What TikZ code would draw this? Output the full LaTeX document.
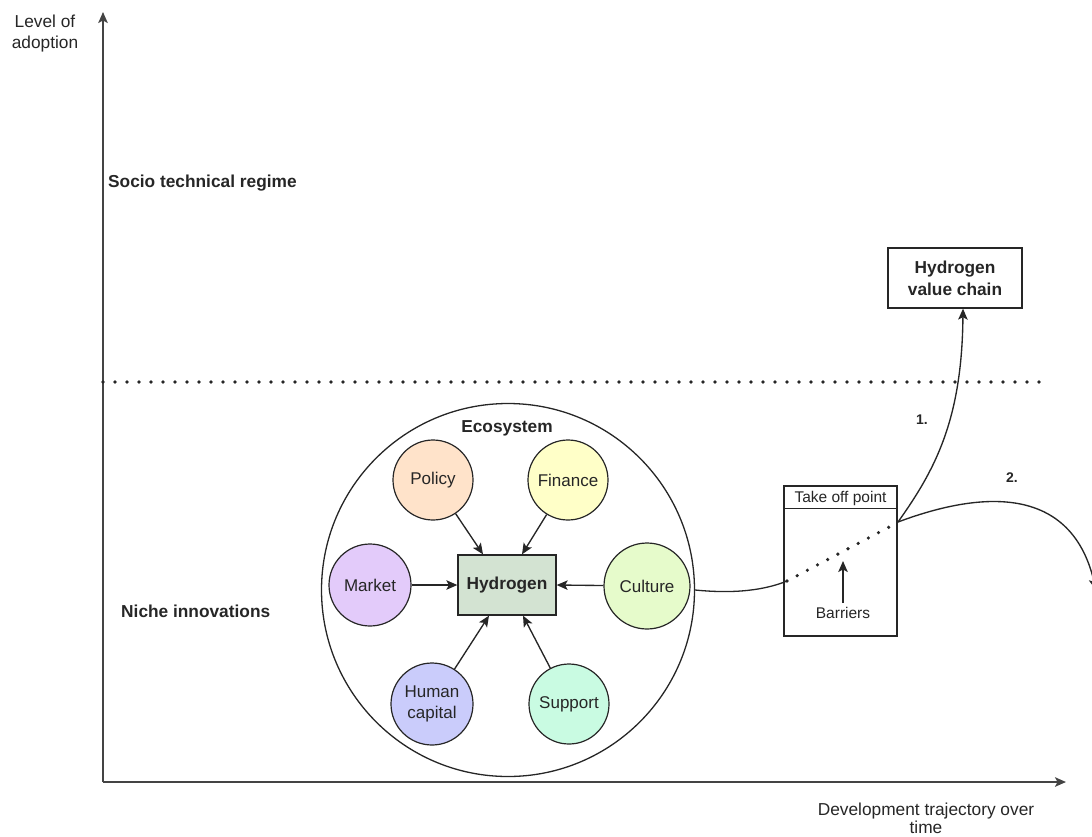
\documentclass[tikz,border=0pt]{standalone}
\usepackage{fontspec}
\setmainfont{Liberation Sans}
\usetikzlibrary{arrows.meta}
\definecolor{txt}{HTML}{262626}
\definecolor{axis}{HTML}{444444}
\definecolor{hydfill}{HTML}{D3E3D2}
\definecolor{polfill}{HTML}{FFE3CA}
\definecolor{finfill}{HTML}{FFFFC8}
\definecolor{mktfill}{HTML}{E3CBFA}
\definecolor{culfill}{HTML}{E6FBCB}
\definecolor{humfill}{HTML}{CACCFB}
\definecolor{supfill}{HTML}{C9FBE2}
\tikzset{
  lbl/.style={font=\fontsize{17.3}{21}\selectfont, text=txt, inner sep=0pt, align=center},
  blbl/.style={lbl, font=\fontsize{17.3}{21}\selectfont\bfseries},
  fac/.style={circle, draw=txt, line width=1.2pt, minimum size=80pt, inner sep=0pt, font=\fontsize{17}{20}\selectfont, text=txt, align=center},
  arr/.style={-{Stealth[length=11pt,width=9.5pt,inset=2.5pt]}, line width=1.35pt, draw=txt},
  dotline/.style={line width=3.6pt, line cap=round, dash pattern=on 0pt off 12pt, draw=txt},
}
\begin{document}
\begin{tikzpicture}[x=1pt,y=-1pt]
\useasboundingbox (0,0) rectangle (1092,836);
% axes
\coordinate (origin) at (103,782);
\coordinate (ytop) at (103,12);
\coordinate (xend) at (1066,782);
\draw[arr, draw=axis, line width=1.7pt] (origin) -- (ytop);
\draw[arr, draw=axis, line width=1.7pt] (origin) -- (xend);
\node[lbl] (ylab) at (45,34) {Level of\\adoption};
\node[lbl, font=\fontsize{17.3}{18}\selectfont] (xlab) at (926,818) {Development trajectory over\\time};
% regime split
\coordinate (d1) at (103,382);
\coordinate (d2) at (1045,382);
\draw[dotline] (d1) -- (d2);
\node[blbl, anchor=west] (regime) at (108,183) {Socio technical regime};
\node[blbl, anchor=west] (niche) at (121,611) {Niche innovations};
% ecosystem
\node[circle, draw=txt, line width=1.3pt, minimum size=373pt, inner sep=0pt] (eco) at (508,590) {};
\node[blbl] (ecolab) at (507,428) {Ecosystem};
\node[rectangle, draw=txt, line width=1.3pt, fill=hydfill, minimum width=98pt, minimum height=60pt, inner sep=0pt, font=\fontsize{17.3}{20}\selectfont\bfseries, text=txt] (hyd) at (507,585) {Hydrogen};
\node[fac, fill=polfill] (policy) at (433,480) {Policy};
\node[fac, fill=finfill] (finance) at (568,480) {Finance};
\node[fac, fill=mktfill, minimum size=82pt] (market) at (370,585) {Market};
\node[fac, fill=culfill, minimum size=86pt] (culture) at (647,586) {Culture};
\node[fac, fill=humfill, minimum size=82pt, font=\fontsize{17}{21}\selectfont] (human) at (432,704) {Human\\capital};
\node[fac, fill=supfill, minimum size=80pt] (support) at (569,704) {Support};
\draw[arr] (policy) -- ([xshift=-24pt]hyd.north);
\draw[arr] (finance) -- ([xshift=15pt]hyd.north);
\draw[arr] (market) -- (hyd.west);
\draw[arr] (culture) -- (hyd.east);
\draw[arr] (human) -- ([xshift=-18pt]hyd.south);
\draw[arr] (support) -- ([xshift=16pt]hyd.south);
% take off point
\node[rectangle, draw=txt, line width=1.3pt, minimum width=113pt, minimum height=150pt, inner sep=0pt] (tob) at (840.5,561) {};
\draw[draw=txt, line width=1.3pt] ([yshift=-23pt]tob.north west) -- ([yshift=-23pt]tob.north east);
\node[lbl, font=\fontsize{15.5}{18}\selectfont] (toblab) at (840.5,498.5) {Take off point};
\coordinate (b1) at (787,581);
\coordinate (b2) at (893,525);
\draw[dotline, dash pattern=on 0pt off 11.5pt] (b1) -- (b2);
\node[lbl, font=\fontsize{15.5}{18}\selectfont] (barriers) at (843,613) {Barriers};
\coordinate (barrtip) at (843,561);
\draw[arr] (barriers.north) ++(0,-4) -- (barrtip);
\draw[txt, line width=1.3pt] (eco.east) .. controls (735,594) and (765,590) .. (b1);
% value chain
\node[rectangle, draw=txt, line width=1.3pt, minimum width=134pt, minimum height=60pt, inner sep=0pt, font=\fontsize{17.3}{22}\selectfont\bfseries, text=txt, align=center] (hvc) at (955,278) {Hydrogen\\value chain};
\coordinate (take) at (898,522);
\draw[arr] (take) .. controls (935,470) and (962,420) .. ([xshift=8pt]hvc.south);
\node[lbl, font=\fontsize{14}{16}\selectfont\bfseries] (one) at (922,420) {1.};
\coordinate (exit) at (1096,590);
\draw[arr] (take) .. controls (970,495) and (1070,478) .. (exit);
\node[lbl, font=\fontsize{14}{16}\selectfont\bfseries] (two) at (1012,478) {2.};
\end{tikzpicture}
\end{document}
